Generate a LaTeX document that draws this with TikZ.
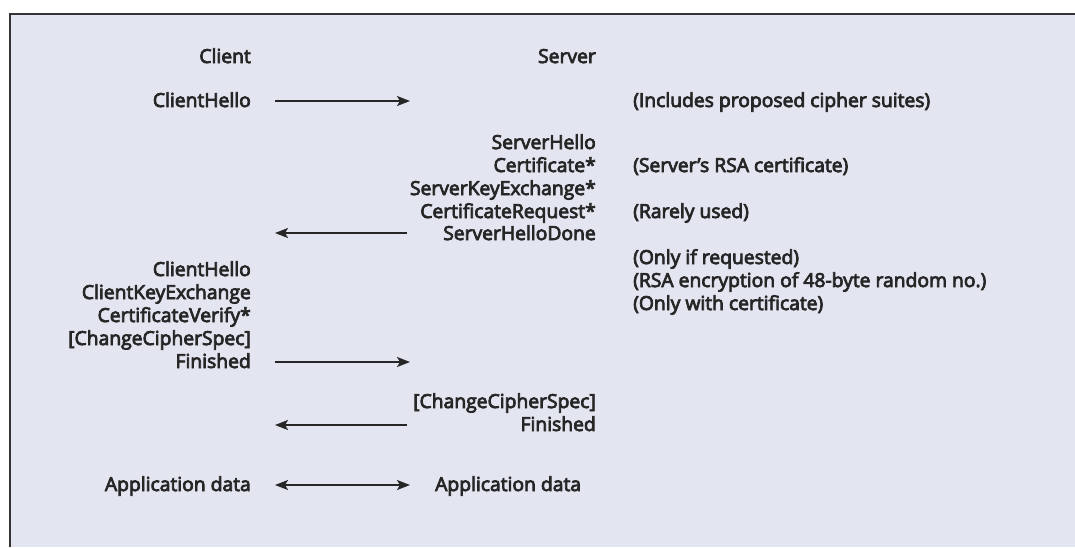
\documentclass[tikz,border=0pt]{standalone}
\usepackage{fontspec}
\setmainfont{Open Sans}[BoldFont={Open Sans}, BoldFeatures={FakeBold=4}]
\usetikzlibrary{arrows.meta}
\definecolor{bgfill}{HTML}{E3E5F1}
\definecolor{txt}{HTML}{262626}
\definecolor{frame}{HTML}{333333}
\begin{document}
\begin{tikzpicture}[x=1pt,y=-1pt,
  lbl/.style={font=\fontsize{19.3}{19.3}\selectfont\bfseries, text=txt, inner sep=0pt},
  cl/.style={lbl, anchor=base east},
  nt/.style={lbl, anchor=base west},
  tip/.tip={Stealth[length=13pt,width=10pt,inset=3pt]},
  msg/.style={draw=txt, line width=1.7pt, -tip},
  bimsg/.style={draw=txt, line width=1.7pt, tip-tip}]
\useasboundingbox (0,0) rectangle (1075,547);
\fill[white] (0,0) rectangle (1075,547);
\fill[bgfill] (10,14) rectangle (1075,547);
\draw[frame, line width=2pt] (10,547) -- (10,14) -- (1075,14);

% column headers
\node[cl] (client) at (251,63) {Client};
\node[cl] (server) at (596,63) {Server};

% ClientHello
\node[cl] (ch1) at (251,107) {ClientHello};
\coordinate (a1s) at (275,101);
\coordinate (a1e) at (410,101);
\draw[msg] (a1s) -- (a1e);
\node[nt] (n1) at (633,107) {(Includes proposed cipher suites)};

% server flight
\node[cl] (sh) at (596,149) {ServerHello};
\node[cl] (cert) at (596,172) {Certificate*};
\node[nt] (n2) at (633,172) {(Server's RSA certificate)};
\node[cl] (ske) at (596,195) {ServerKeyExchange*};
\node[cl] (creq) at (596,218) {CertificateRequest*};
\node[nt] (n3) at (633,218) {(Rarely used)};
\node[cl] (shd) at (596,240) {ServerHelloDone};
\coordinate (a2s) at (407,233);
\coordinate (a2e) at (275,233);
\draw[msg] (a2s) -- (a2e);

% client flight
\node[nt] (n4) at (633,264) {(Only if requested)};
\node[nt] (n5) at (633,287) {(RSA encryption of 48-byte random no.)};
\node[nt] (n6) at (633,310) {(Only with certificate)};
\node[cl] (ch2) at (251,276) {ClientHello};
\node[cl] (cke) at (251,299) {ClientKeyExchange};
\node[cl] (cv) at (251,322) {CertificateVerify*};
\node[cl] (ccs1) at (251,345) {[ChangeCipherSpec]};
\node[cl] (fin1) at (251,368) {Finished};
\coordinate (a3s) at (275,362);
\coordinate (a3e) at (410,362);
\draw[msg] (a3s) -- (a3e);

% server finish
\node[cl] (ccs2) at (596,408) {[ChangeCipherSpec]};
\node[cl] (fin2) at (596,431) {Finished};
\coordinate (a4s) at (407,425);
\coordinate (a4e) at (275,425);
\draw[msg] (a4s) -- (a4e);

% application data
\node[cl] (ad1) at (251,491) {Application data};
\node[nt] (ad2) at (435,491) {Application data};
\coordinate (a5s) at (275,485);
\coordinate (a5e) at (410,485);
\draw[bimsg] (a5s) -- (a5e);
\end{tikzpicture}
\end{document}
